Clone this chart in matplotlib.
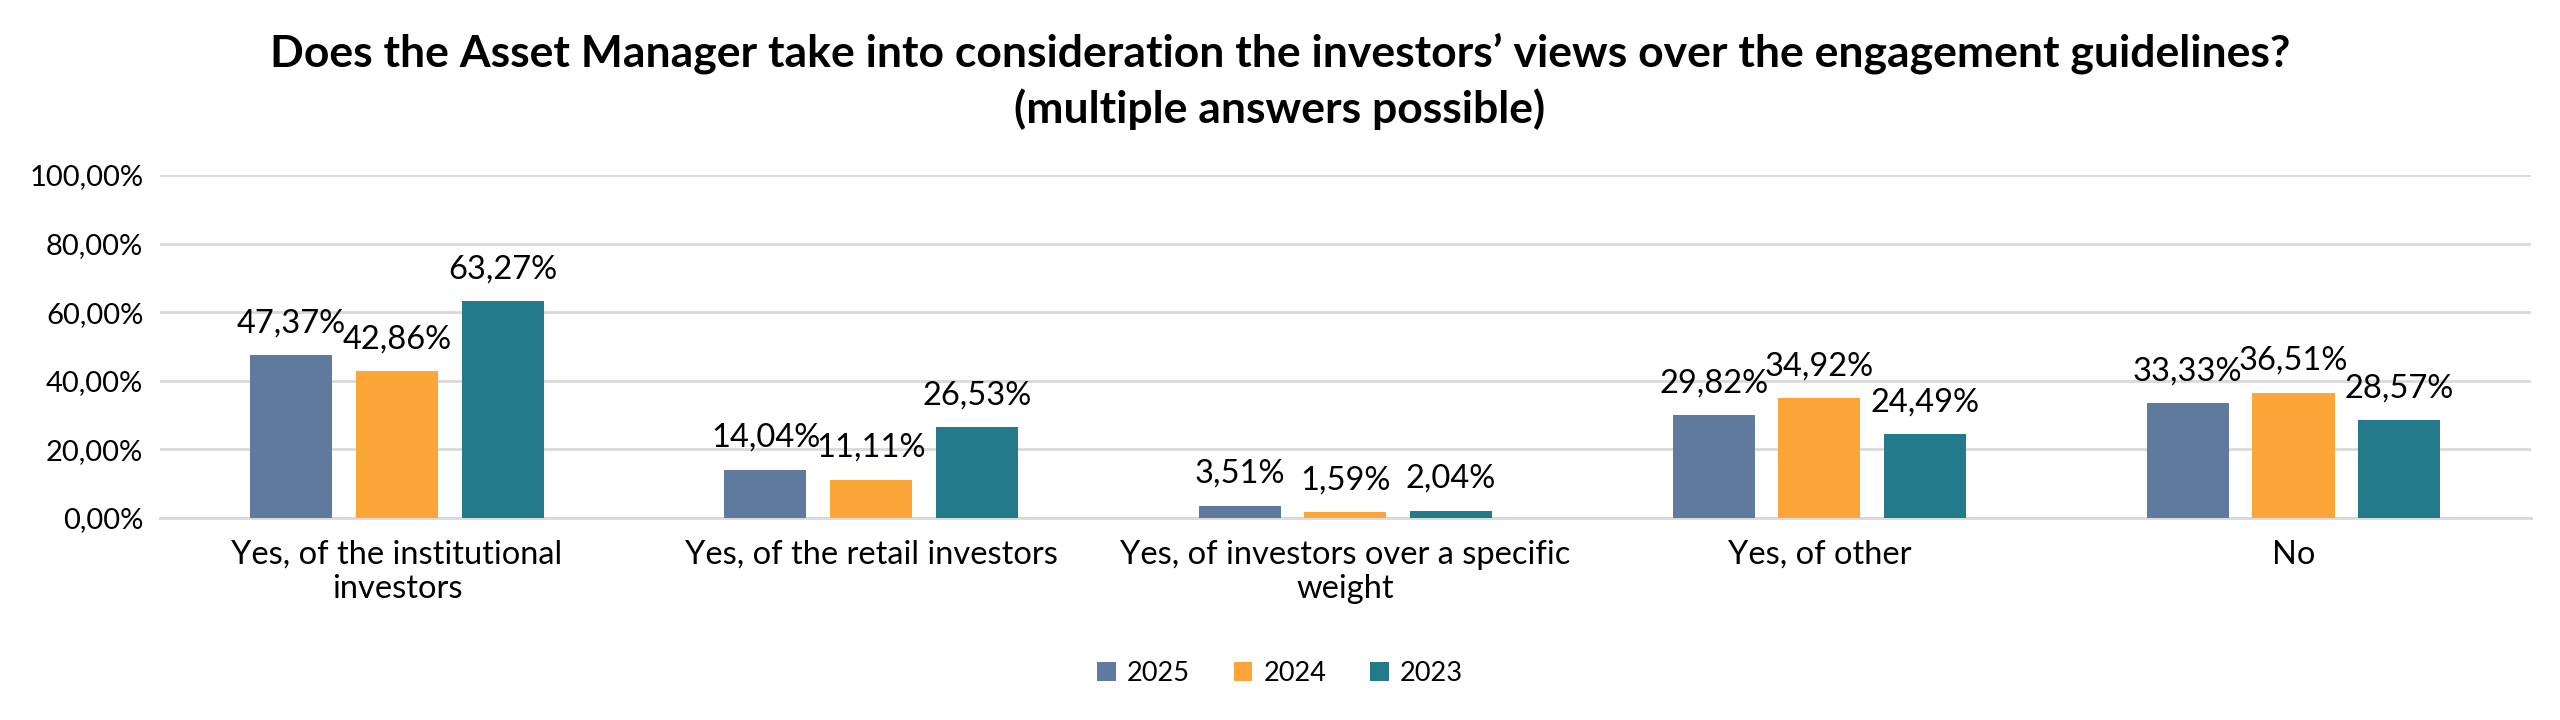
import numpy as np
from matplotlib import pyplot as plt

plt.rcParams['font.family'] = ['Lato', 'DejaVu Sans']

categories = ['Yes, of the institutional\ninvestors', 'Yes, of the retail investors',
              'Yes, of investors over a specific\nweight', 'Yes, of other', 'No']
years = ['2025', '2024', '2023']
v2025 = [47.37, 14.04, 3.51, 29.82, 33.33]
v2024 = [42.86, 11.11, 1.59, 34.92, 36.51]
v2023 = [63.27, 26.53, 2.04, 24.49, 28.57]
colors = ['#607A9E', '#FCA539', '#237A8B']

title = ('Does the Asset Manager take into consideration the investors\u2019 views over the engagement guidelines?\n'
         '(multiple answers possible)')


def pct(v):
    return '{:.2f}%'.format(v).replace('.', ',')


fig = plt.figure(figsize=(25.6, 7.2), dpi=100)
ax = fig.add_axes([0.0625, 0.281, 0.926, 0.476])

x = np.arange(len(categories))
width = 0.173
step = 0.223

for i, (vals, year) in enumerate(zip([v2025, v2024, v2023], years)):
    bars = ax.bar(x + (i - 1) * step, vals, width, color=colors[i], label=year, zorder=3)
    for b, v in zip(bars, vals):
        ax.annotate(pct(v), (b.get_x() + b.get_width() / 2, v), xytext=(0, 12),
                    textcoords='offset points', ha='center', va='bottom', fontsize=23.5)

ax.set_xlim(-0.5, len(categories) - 0.5)
ax.set_ylim(0, 100)
ax.set_yticks(np.arange(0, 101, 20))
ax.set_yticklabels([pct(t) for t in np.arange(0, 101, 20)], fontsize=21)
ax.set_xticks(x)
ax.set_xticklabels(categories, fontsize=23.5, linespacing=1.15)
ax.tick_params(axis='both', length=0)
ax.tick_params(axis='x', pad=16)
ax.tick_params(axis='y', pad=12)
ax.grid(axis='y', color='#D9D9D9', linewidth=2, zorder=0)
for s in ['top', 'right', 'left']:
    ax.spines[s].set_visible(False)
ax.spines['bottom'].set_color('#D9D9D9')
ax.spines['bottom'].set_linewidth(2)

fig.text(0.5, 0.887, title, ha='center', va='center', fontsize=32, fontweight='bold', linespacing=1.4)

fig.legend(loc='center', bbox_to_anchor=(0.5, 0.065), ncol=3, frameon=False, fontsize=19.5,
           handlelength=0.7, handleheight=0.7, handletextpad=0.4, columnspacing=1.6)

fig.savefig('out.png', dpi=100)
